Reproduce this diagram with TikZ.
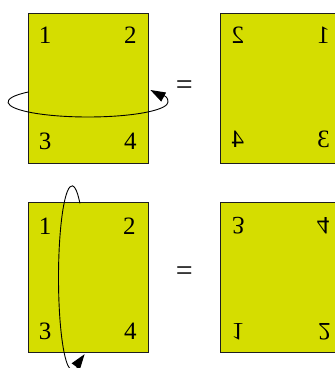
\documentclass[tikz,border=0pt]{standalone}
\usepackage{fontspec}
\setmainfont{Liberation Serif}
\usetikzlibrary{arrows.meta,positioning,calc}
\definecolor{flipedge}{RGB}{30,30,30}
\definecolor{flipfill}{RGB}{213,221,0}
\tikzset{
  card/.style={
    draw=flipedge, fill=flipfill, line width=0.8pt,
    minimum width=120pt, minimum height=150pt, inner sep=0pt
  },
  digit/.style={font=\fontsize{25}{25}\selectfont, inner sep=0pt},
  eqsign/.style={font=\fontsize{30}{30}\selectfont, inner sep=0pt},
  spin/.style={-{Triangle[length=15pt,width=10pt]}, draw=black, line width=0.9pt}
}

\begin{document}
\begin{tikzpicture}[x=1pt, y=1pt, node distance=39pt and 72pt]
  \useasboundingbox (0,0) rectangle (335,368);
  \clip (0,0) rectangle (335,368);

  \node[card] (tl) at (88,280) {};
  \node[card, right=of tl] (tr) {};
  \node[card, below=of tl] (bl) {};
  \node[card, right=of bl] (br) {};

  % upper row
  \node[digit] (tl1) at ([shift={(17.5,-23)}]tl.north west) {1};
  \node[digit] (tl2) at ([shift={(-18,-23)}]tl.north east) {2};
  \node[digit] (tl3) at ([shift={(17.5,22)}]tl.south west) {3};
  \node[digit] (tl4) at ([shift={(-18,22)}]tl.south east) {4};

  \node[digit, xscale=-1] (tr2) at ([shift={(17.5,-23)}]tr.north west) {2};
  \node[digit, xscale=-1] (tr1) at ([shift={(-17.5,-23)}]tr.north east) {1};
  \node[digit, xscale=-1] (tr4) at ([shift={(17.5,24)}]tr.south west) {4};
  \node[digit, xscale=-1] (tr3) at ([shift={(-17.5,24)}]tr.south east) {3};

  \node[eqsign] (eqt) at ($(tl.east)!0.5!(tr.west)$) {=};

  \coordinate (hax) at ([yshift=-14pt]tl.center);
  \coordinate (htip) at ([shift={(2pt,-2pt)}]tl.east);
  \draw[spin] ($(hax)+(138:80pt and 15pt)$)
    arc[start angle=138, end angle=360, x radius=80pt, y radius=15pt]
    to[out=90, in=-28] (htip);

  % lower row
  \node[digit] (bl1) at ([shift={(17.5,-24)}]bl.north west) {1};
  \node[digit] (bl2) at ([shift={(-19,-24)}]bl.north east) {2};
  \node[digit] (bl3) at ([shift={(17.5,22)}]bl.south west) {3};
  \node[digit] (bl4) at ([shift={(-18,22)}]bl.south east) {4};

  \node[digit, yscale=-1] (br3) at ([shift={(18,-23)}]br.north west) {3};
  \node[digit, yscale=-1] (br4) at ([shift={(-18,-23)}]br.north east) {4};
  \node[digit, yscale=-1] (br1) at ([shift={(17.5,21)}]br.south west) {1};
  \node[digit, yscale=-1] (br2) at ([shift={(-16.5,21)}]br.south east) {2};

  \node[eqsign] (eqb) at ($(bl.east)!0.5!(br.west)+(0,4)$) {=};

  \coordinate (vax) at ([xshift=-16pt]bl.center);
  \coordinate (vtip) at ([shift={(57pt,-1pt)}]bl.south west);
  \draw[spin] ($(vax)+(54:13.5pt and 92pt)$)
    arc[start angle=54, end angle=270, x radius=13.5pt, y radius=92pt]
    to[out=0, in=234] (vtip);
\end{tikzpicture}
\end{document}
